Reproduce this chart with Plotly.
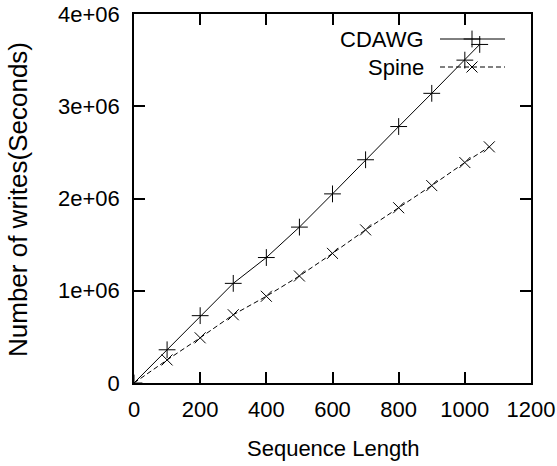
import plotly.graph_objects as go

# Data
cdawg_x = [0, 100, 200, 300, 400, 500, 600, 700, 800, 900, 1000, 1045]
cdawg_y = [0, 0.36e6, 0.73e6, 1.08e6, 1.36e6, 1.69e6, 2.05e6, 2.42e6, 2.78e6, 3.14e6, 3.50e6, 3.67e6]
spine_x = [0, 100, 200, 300, 400, 500, 600, 700, 800, 900, 1000, 1074]
spine_y = [0, 0.25e6, 0.49e6, 0.74e6, 0.94e6, 1.16e6, 1.405e6, 1.66e6, 1.90e6, 2.14e6, 2.39e6, 2.56e6]
series_names = ["CDAWG", "Spine"]
x_ticks = [0, 200, 400, 600, 800, 1000, 1200]
y_ticks = [0, 1e6, 2e6, 3e6, 4e6]
y_tick_labels = ["0", "1e+06", "2e+06", "3e+06", "4e+06"]
x_title = "Sequence Length"
y_title = "Number of writes(Seconds)"

FONT = "Liberation Sans, Arial, sans-serif"
FS = 22

L, R, T, B = 134, 26, 14, 83
W, H = 557, 466
PW, PH = W - L - R, H - T - B

def px_x(px):
    return (px - L) / PW

def px_y(py):
    return (H - B - py) / PH

DASH = "5px,3px"

fig = go.Figure()
fig.add_trace(go.Scatter(
    x=cdawg_x, y=cdawg_y, mode="lines+markers", name=series_names[0],
    line=dict(color="black", width=1),
    marker=dict(symbol="cross-thin-open", size=12, color="black",
                line=dict(color="black", width=1)),
    showlegend=False))
fig.add_trace(go.Scatter(
    x=spine_x, y=spine_y, mode="lines+markers", name=series_names[1],
    line=dict(color="black", width=1, dash=DASH),
    marker=dict(symbol="x-thin-open", size=11, color="black",
                line=dict(color="black", width=1)),
    showlegend=False))

# Manual gnuplot-style legend (text left, sample right)
leg_y = [px_y(39), px_y(67)]
leg_x0, leg_x1, leg_xm, leg_tx = px_x(440), px_x(505), px_x(472), px_x(426)
symbols = ["cross-thin-open", "x-thin-open"]
dashes = ["solid", DASH]
for i, nm in enumerate(series_names):
    fig.add_shape(type="line", xref="paper", yref="paper",
                  x0=leg_x0, x1=leg_x1, y0=leg_y[i], y1=leg_y[i],
                  line=dict(color="black", width=1, dash=dashes[i]))
    fig.add_trace(go.Scatter(
        x=[leg_xm], y=[leg_y[i]], xaxis="x2", yaxis="y2", mode="markers",
        marker=dict(symbol=symbols[i], size=12 if i == 0 else 11, color="black",
                    line=dict(color="black", width=1)),
        showlegend=False, hoverinfo="skip"))
    fig.add_annotation(xref="paper", yref="paper", x=leg_tx, y=leg_y[i],
                       text=nm, showarrow=False, xanchor="right", yanchor="middle",
                       font=dict(family=FONT, size=FS, color="black"))

# Axis titles
fig.add_annotation(xref="paper", yref="paper", x=px_x(333), y=px_y(448),
                   text=x_title, showarrow=False, xanchor="center", yanchor="middle",
                   font=dict(family=FONT, size=FS, color="black"))
fig.add_annotation(xref="paper", yref="paper", x=px_x(18), y=px_y(200),
                   text=y_title, showarrow=False, xanchor="center", yanchor="middle",
                   textangle=-90, font=dict(family=FONT, size=26, color="black"))

axis_common = dict(
    showgrid=False, zeroline=False, showline=True, linecolor="black", linewidth=1.5,
    mirror="allticks", ticks="inside", ticklen=11, tickwidth=1.5, tickcolor="black",
    tickfont=dict(family=FONT, size=FS, color="black"), automargin=False,
)

fig.update_layout(
    width=W, height=H,
    margin=dict(l=L, r=R, t=T, b=B),
    paper_bgcolor="white", plot_bgcolor="white",
    font=dict(family=FONT, size=FS, color="black"),
    xaxis=dict(range=[0, 1200], tickvals=x_ticks, ticktext=[str(v) for v in x_ticks],
               ticklabelstandoff=6, **axis_common),
    yaxis=dict(range=[0, 4e6], tickvals=y_ticks, ticktext=y_tick_labels,
               ticklabelstandoff=8, **axis_common),
    xaxis2=dict(range=[0, 1], overlaying="x", visible=False),
    yaxis2=dict(range=[0, 1], overlaying="y", visible=False),
)

fig.write_html("out.html")
